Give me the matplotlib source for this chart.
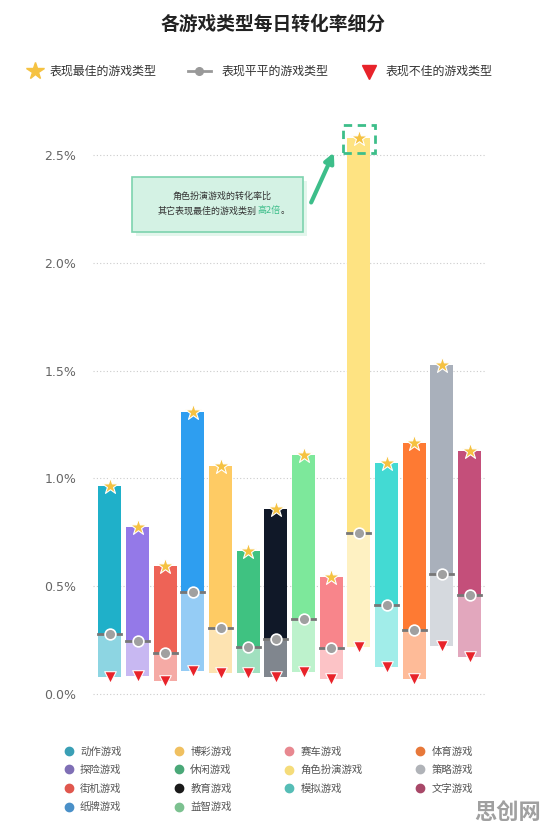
import matplotlib
matplotlib.use('Agg')
from matplotlib import pyplot as plt
from matplotlib.patches import Rectangle, FancyArrowPatch
from matplotlib.lines import Line2D
import numpy as np

plt.rcParams['font.family'] = ['Noto Sans CJK SC', 'DejaVu Sans']

genres = ['动作游戏', '探险游戏', '街机游戏', '纸牌游戏', '博彩游戏', '休闲游戏', '教育游戏',
          '益智游戏', '赛车游戏', '角色扮演游戏', '模拟游戏', '体育游戏', '策略游戏', '文字游戏']
best = [0.965, 0.775, 0.594, 1.31, 1.058, 0.664, 0.858, 1.109, 0.543, 2.58, 1.072, 1.165, 1.527, 1.128]
avg = [0.278, 0.246, 0.19, 0.473, 0.306, 0.218, 0.255, 0.348, 0.213, 0.747, 0.413, 0.297, 0.557, 0.459]
worst = [0.079, 0.084, 0.06, 0.107, 0.098, 0.098, 0.079, 0.102, 0.07, 0.218, 0.125, 0.07, 0.223, 0.172]

top_colors = ['#1fb0c9', '#9479e8', '#ee6356', '#2e9ef0', '#fecb64', '#3fc281', '#101828',
              '#7de89b', '#f8858b', '#fee382', '#43dad3', '#fe7a33', '#a9b0bb', '#c44f7a']
low_colors = ['#8dd5e2', '#c8b8f2', '#f5aaa5', '#95ccf5', '#fde3b1', '#a1e0bf', '#80868e',
              '#bdf2cc', '#fcc3c6', '#fef1c2', '#a1ede9', '#febb98', '#d5d9de', '#e2a7bd']
legend_colors = ['#3a9fb5', '#7f6fb5', '#e0574e', '#4a90c8', '#f0c060', '#4aa878', '#1a1a1a',
                 '#7cc190', '#e88890', '#f5dc7a', '#56bdb6', '#e7783a', '#b0b3b8', '#a84868']

W, H = 547, 832


def fx(x):
    return x / W


def fy(y):
    return 1 - y / H


fig = plt.figure(figsize=(W / 100, H / 100), dpi=100)
ax = fig.add_axes([fx(93), fy(700), fx(485) - fx(93), (700 - 110) / H])

x = np.arange(len(genres))
bw = 0.83
ax.bar(x, np.array(avg) - np.array(worst), bottom=worst, width=bw, color=low_colors, zorder=2)
ax.bar(x, np.array(best) - np.array(avg), bottom=avg, width=bw, color=top_colors, zorder=2)
for i in range(len(genres)):
    ax.plot([i - bw / 2, i + bw / 2], [avg[i], avg[i]], color='#777777', lw=2, zorder=3)

ax.scatter(x, best, marker='*', s=150, color='#f5c242', edgecolors='white', linewidths=0.8, zorder=4)
ax.scatter(x, avg, marker='o', s=60, color='#a0a0a0', edgecolors='white', linewidths=1.2, zorder=4)
ax.scatter(x, worst, marker='v', s=70, color='#e8232a', edgecolors='white', linewidths=0.8, zorder=4)

ax.set_xlim(-0.61, 13.56)
ax.set_ylim(-0.028, 2.71)
yt = [0, 0.5, 1.0, 1.5, 2.0, 2.5]
ax.set_yticks(yt)
ax.set_yticklabels(['%.1f%%' % v for v in yt], color='#666666', fontsize=9, family='DejaVu Sans')
ax.tick_params(axis='y', length=0, pad=12)
ax.set_xticks([])
for v in yt:
    ax.axhline(v, color='#cccccc', lw=0.8, ls=(0, (1, 2)), zorder=1)
for s in ax.spines.values():
    s.set_visible(False)

# dashed box round the best role play value
ax.add_patch(Rectangle((9 - 0.58, 2.51), 1.16, 0.13, fill=False, ls=(0, (3, 2)),
                       lw=2, edgecolor='#3dbe8a', zorder=5, clip_on=False))

# title and top legend
fig.text(0.5, fy(24), '各游戏类型每日转化率细分', ha='center', va='center', fontsize=13.5,
         fontweight='bold', color='#222222')
fig.add_artist(Line2D([fx(35)], [fy(71)], marker='*', ms=13, color='#f5c242', lw=0))
fig.text(fx(50), fy(71), '表现最佳的游戏类型', va='center', fontsize=8.6, color='#333333')
fig.add_artist(Line2D([fx(188), fx(194)], [fy(71), fy(71)], color='#999999', lw=2))
fig.add_artist(Line2D([fx(204), fx(211)], [fy(71), fy(71)], color='#999999', lw=2))
fig.add_artist(Line2D([fx(199)], [fy(71)], marker='o', ms=5.5, color='#999999', lw=0))
fig.text(fx(222), fy(71), '表现平平的游戏类型', va='center', fontsize=8.6, color='#333333')
fig.add_artist(Line2D([fx(369)], [fy(72)], marker='v', ms=10, color='#e8232a', lw=0))
fig.text(fx(386), fy(71), '表现不佳的游戏类型', va='center', fontsize=8.6, color='#333333')

# annotation box
fig.add_artist(Rectangle((fx(136), fy(236)), fx(171), (232 - 177) / H, transform=fig.transFigure,
                         facecolor='#e3f6ec', edgecolor='none'))
fig.add_artist(Rectangle((fx(132), fy(232)), fx(171), (232 - 177) / H, transform=fig.transFigure,
                         facecolor='#d4f2e4', edgecolor='#7dd3ae', lw=1.2))
fig.text(fx(222), fy(196), '角色扮演游戏的转化率比', ha='center', va='center', fontsize=6.5,
         color='#333333')
fig.text(fx(257), fy(211), '其它表现最佳的游戏类别', ha='right', va='center', fontsize=6.5,
         color='#333333')
fig.text(fx(257), fy(211), '高2倍', ha='left', va='center', fontsize=6.5, color='#3dbe8a')
fig.text(fx(281), fy(211), '。', ha='left', va='center', fontsize=6.5, color='#333333')
fig.add_artist(FancyArrowPatch((fx(310), fy(205)), (fx(335), fy(150)), transform=fig.transFigure,
                               arrowstyle='-|>', mutation_scale=14, lw=3, color='#3dbe8a'))

# bottom legend
handles = [Line2D([], [], marker='o', lw=0, ms=6, color=c) for c in legend_colors]
fig.legend(handles, genres, loc='upper left', bbox_to_anchor=(fx(54), fy(737)), ncol=4,
           frameon=False, fontsize=7.5, labelcolor='#555555', handletextpad=0.6,
           columnspacing=5.0, labelspacing=0.82, handlelength=1.0)

fig.text(fx(541), fy(812), '思创网', ha='right', va='center', fontsize=16, fontweight='bold',
         color='#a0a0a0')

fig.savefig('out.png', dpi=100)
